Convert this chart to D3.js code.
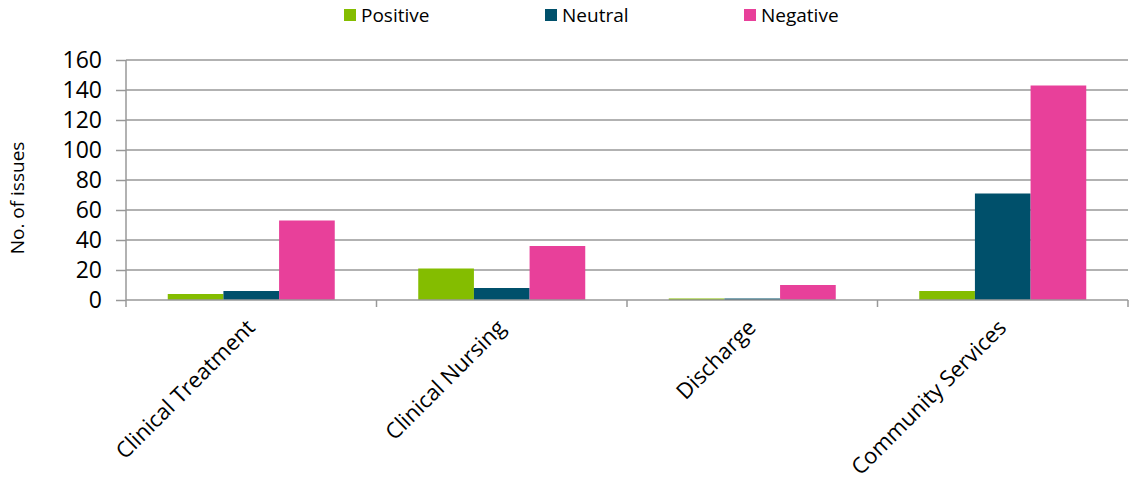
<!DOCTYPE html>
<html><head><meta charset="utf-8">
<script src="https://cdn.jsdelivr.net/npm/d3@7"></script>
<style>body{margin:0;background:#fff}svg{display:block}text{font-family:"Open Sans",sans-serif;fill:#000}</style>
</head><body><svg id="c" width="1129" height="488"></svg>
<script>
const categories = ["Clinical Treatment","Clinical Nursing","Discharge","Community Services"];
const seriesNames = ["Positive","Neutral","Negative"];
const positive = [4,21,1,6];
const neutral = [6,8,1,71];
const negative = [53,36,10,143];
const yTicks = [0,20,40,60,80,100,120,140,160];
const colors = ["#84bd00","#00506b","#e8409a"];

const series = [positive, neutral, negative];
const svg = d3.select("#c");
const L = 126, R = 1128, T = 60, B = 300;
const x = d3.scaleBand().domain(categories).range([L,R]).paddingInner(0).paddingOuter(0);
const x1 = d3.scaleBand().domain(seriesNames).range([0,x.bandwidth()]).paddingOuter(0.75).paddingInner(0);
const y = d3.scaleLinear().domain([0,160]).range([B,T]);

// gridlines
svg.append("g").selectAll("line").data(yTicks.slice(1)).join("line")
  .attr("x1",L).attr("x2",R).attr("y1",d=>y(d)).attr("y2",d=>y(d))
  .attr("stroke","#989898").attr("stroke-width",1.5);

// bars
categories.forEach((c,ci)=>{
  seriesNames.forEach((s,si)=>{
    svg.append("rect").attr("x",x(c)+x1(s)).attr("width",x1.bandwidth())
      .attr("y",y(series[si][ci])).attr("height",B-y(series[si][ci]))
      .attr("fill",colors[si]);
  });
});

// y axis
const ya = svg.append("g").attr("transform",`translate(${L},0)`)
  .call(d3.axisLeft(y).tickValues(yTicks).tickSize(10).tickPadding(14));
ya.selectAll("line").attr("stroke","#989898").attr("stroke-width",1.5);
ya.select(".domain").attr("stroke","#989898").attr("stroke-width",1.5).attr("d",`M0,${T}V${B}`);
ya.selectAll("text").style("font-family","'Open Sans', sans-serif").style("font-size","23px").attr("fill","#000");

// x axis
const xg = svg.append("g").attr("transform",`translate(0,${B})`);
xg.append("line").attr("x1",L).attr("x2",R).attr("stroke","#989898").attr("stroke-width",1.5);
const bounds = categories.map(c=>x(c)).concat([x(categories[3])+x.bandwidth()]);
xg.selectAll("line.t").data(bounds).join("line").attr("class","t")
  .attr("x1",d=>d).attr("x2",d=>d).attr("y1",0).attr("y2",7)
  .attr("stroke","#989898").attr("stroke-width",1.5);
xg.selectAll("text").data(categories).join("text")
  .attr("transform",d=>`translate(${x(d)+x.bandwidth()/2+5},29) rotate(-45)`)
  .attr("text-anchor","end")
  .style("font-size","22px").text(d=>d);

// y title
svg.append("text").attr("transform","translate(24,198) rotate(-90)")
  .attr("text-anchor","middle").style("font-size","19px").text("No. of issues");

// legend
const lx = [344,545,744];
seriesNames.forEach((s,i)=>{
  svg.append("rect").attr("x",lx[i]).attr("y",9).attr("width",12).attr("height",12).attr("fill",colors[i]);
  svg.append("text").attr("x",lx[i]+17).attr("y",22).style("font-size","19px").text(s);
});
</script></body></html>
